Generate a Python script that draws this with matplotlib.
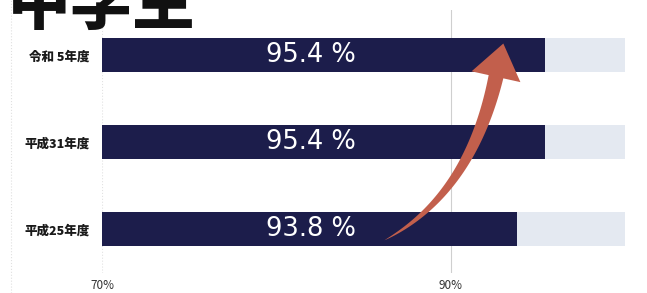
import numpy as np
import matplotlib
matplotlib.use("Agg")
import matplotlib.pyplot as plt
from matplotlib.patches import Polygon
from matplotlib.lines import Line2D

plt.rcParams["font.family"] = ["Noto Sans CJK JP", "DejaVu Sans"]

title = "中学生"
years = ["平成25年度", "平成31年度", "令和 5年度"]
rates = [93.8, 95.4, 95.4]
rate_labels = ["93.8 %", "95.4 %", "95.4 %"]
x_ticks = [70, 90]
x_tick_labels = ["70%", "90%"]
x_min, x_max = 70, 100

navy = "#1c1d4b"
pale = "#e4e9f1"
arrow_col = "#c25f4c"

W, H = 647, 293
fig = plt.figure(figsize=(W / 100, H / 100), dpi=100)
ax = fig.add_axes([102 / W, 20 / H, 523 / W, 263 / H])

ypos = np.arange(len(years))
bar_h = 0.39

ax.barh(ypos, [x_max - x_min] * len(years), left=x_min, height=bar_h, color=pale, zorder=1)
ax.barh(ypos, [r - x_min for r in rates], left=x_min, height=bar_h, color=navy, zorder=2)

for y, lab in zip(ypos, rate_labels):
    ax.text(82.0, y, lab, color="white", fontsize=18.5, family="DejaVu Sans",
            ha="center", va="center", zorder=5)

ax.set_xlim(x_min, x_max)
ax.set_ylim(-0.506, 2.517)
ax.set_xticks(x_ticks)
ax.set_xticklabels(x_tick_labels, fontsize=8.5, color="#333333")
ax.set_yticks(ypos)
ax.set_yticklabels(years, fontsize=9, fontweight="heavy", color="#1a1a1a")
ax.tick_params(axis="both", length=0)
ax.tick_params(axis="y", pad=9)
ax.tick_params(axis="x", pad=4)
for s in ax.spines.values():
    s.set_visible(False)

# reference lines
ax.axvline(90, color="#cfcfcf", lw=0.8, zorder=0)
ax.axvline(70, color="#e2e2e2", lw=0.8, ls=":", zorder=0)
fig.add_artist(Line2D([11 / W, 11 / W], [0, 1], color="#e0e0e0", lw=0.8, ls=":",
                      transform=fig.transFigure))

# curved tapered arrow (annotation), defined in data space
fig.canvas.draw()
tail = (86.2, -0.13)
ctrl = (91.1, 0.39)
base = (92.6, 1.75)
p0, p1, p2 = (ax.transData.transform(p) for p in (tail, ctrl, base))
t = np.linspace(0, 1, 60)[:, None]
curve = (1 - t) ** 2 * p0 + 2 * t * (1 - t) * p1 + t ** 2 * p2
tang = 2 * (1 - t) * (p1 - p0) + 2 * t * (p2 - p1)
tang = tang / np.linalg.norm(tang, axis=1)[:, None]
norm = np.column_stack([-tang[:, 1], tang[:, 0]])
half_w = 7.5 * t[:, 0] ** 0.8
left = curve + norm * half_w[:, None]
right = curve - norm * half_w[:, None]
tip = curve[-1] + tang[-1] * 34
wing_l = curve[-1] + norm[-1] * 25
wing_r = curve[-1] - norm[-1] * 25
pts = np.vstack([left, wing_l, tip, wing_r, right[::-1]])
ax.add_patch(Polygon(pts, closed=True, facecolor=arrow_col, edgecolor="none",
                     transform=None, zorder=6))

fig.text(8 / W, (H - 24) / H, title, fontsize=45, fontweight="heavy", color="#111111",
         ha="left", va="baseline")

fig.savefig("out.png", dpi=100, facecolor="white")
